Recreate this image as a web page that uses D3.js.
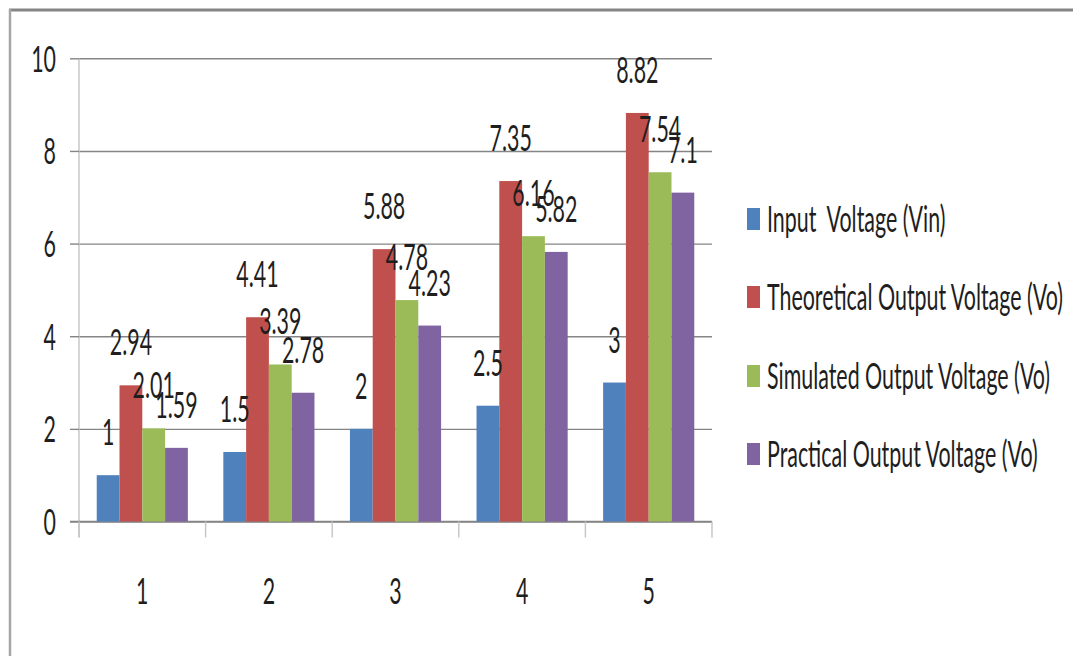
<!DOCTYPE html>
<html>
<head>
<meta charset="utf-8">
<script src="https://cdn.jsdelivr.net/npm/d3@7/dist/d3.min.js"></script>
<style>
  html, body { margin: 0; padding: 0; background: #fff; }
  svg text { font-family: Lato, "Open Sans", sans-serif; fill: #1e1e1e; }
</style>
</head>
<body>
<svg id="chart" width="1073" height="656"></svg>
<script>
// Output voltage measurements for five test points
const categories = ["1", "2", "3", "4", "5"];
const seriesNames = [
  "Input  Voltage (Vin)",
  "Theoretical Output Voltage (Vo)",
  "Simulated Output Voltage (Vo)",
  "Practical Output Voltage (Vo)"
];
const inputVoltage = [1, 1.5, 2, 2.5, 3];
const theoreticalVo = [2.94, 4.41, 5.88, 7.35, 8.82];
const simulatedVo = [2.01, 3.39, 4.78, 6.16, 7.54];
const practicalVo = [1.59, 2.78, 4.23, 5.82, 7.1];
const yTicks = [0, 2, 4, 6, 8, 10];
const colors = ["#4F81BD", "#C0504D", "#9BBB59", "#8064A2"];

const seriesValues = [inputVoltage, theoreticalVo, simulatedVo, practicalVo];

const svg = d3.select("#chart");
const FONT = 36;

// Narrow type: measure the longest legend entry and squeeze all text horizontally
const probe = svg.append("text").attr("font-size", FONT).style("white-space", "pre").text(seriesNames[1]);
const sx = 296 / probe.node().getComputedTextLength();
probe.remove();

// Outer frame
svg.append("line").attr("x1", 9).attr("x2", 1073).attr("y1", 10).attr("y2", 10)
  .attr("stroke", "#858585").attr("stroke-width", 3);
svg.append("line").attr("x1", 10).attr("x2", 10).attr("y1", 9).attr("y2", 656)
  .attr("stroke", "#a6a6a6").attr("stroke-width", 2.5);

const plotLeft = 79, plotRight = 712, plotTop = 58.3, plotBottom = 521.5;

const x = d3.scaleBand().domain(categories).range([plotLeft, plotRight])
  .paddingInner(0.28).paddingOuter(0.14);
const xs = d3.scaleBand().domain(d3.range(seriesNames.length)).range([0, x.bandwidth()]);
const y = d3.scaleLinear().domain([0, 10]).range([plotBottom, plotTop]);

// Horizontal gridlines
const grid = svg.append("g").attr("transform", `translate(${plotLeft},0)`)
  .call(d3.axisLeft(y).tickValues(yTicks).tickSize(-(plotRight - plotLeft)).tickFormat(""));
grid.select(".domain").remove();
grid.selectAll(".tick line").attr("stroke", "#858585").attr("stroke-width", 1.4);

// Vertical axis: outside ticks and labels
const yAxis = svg.append("g").attr("transform", `translate(${plotLeft},0)`)
  .call(d3.axisLeft(y).tickValues(yTicks).tickSize(9).tickPadding(14).tickFormat(d3.format("d")));
yAxis.select(".domain").attr("stroke", "#c4c4c4").attr("stroke-width", 1.4)
  .attr("d", `M0,${plotTop}V${plotBottom + 16}`);
yAxis.selectAll(".tick line").attr("stroke", "#858585").attr("stroke-width", 1.4);
yAxis.selectAll(".tick text")
  .attr("font-size", FONT).attr("font-family", null)
  .attr("fill", "#1e1e1e")
  .attr("dy", null).attr("y", 13)
  .attr("x", -23 / sx)
  .attr("transform", `scale(${sx},1)`);

// Horizontal axis with category boundary ticks
const xAxis = svg.append("g").attr("transform", `translate(0,${plotBottom})`);
xAxis.append("line").attr("x1", plotLeft - 9).attr("x2", plotRight).attr("y1", 0).attr("y2", 0)
  .attr("stroke", "#858585").attr("stroke-width", 1.4);
const bounds = categories.map(c => x(c) - x.step() * x.paddingOuter());
bounds.push(plotRight);
xAxis.selectAll("line.bt").data(bounds).join("line").attr("class", "bt")
  .attr("x1", d => d).attr("x2", d => d).attr("y1", 0).attr("y2", 16)
  .attr("stroke", "#c4c4c4").attr("stroke-width", 1.4);
xAxis.selectAll("g.cat").data(categories).join("g").attr("class", "cat")
  .attr("transform", d => `translate(${x(d) + x.bandwidth() / 2},82)`)
  .append("text").attr("font-size", FONT).attr("text-anchor", "middle")
  .attr("transform", `scale(${sx},1)`).text(d => d);

// Bars
const groups = svg.append("g").selectAll("g").data(categories).join("g")
  .attr("transform", d => `translate(${x(d)},0)`);
groups.selectAll("rect").data((c, i) => seriesValues.map((vals, s) => ({ s, v: vals[i] })))
  .join("rect")
  .attr("x", d => xs(d.s)).attr("width", xs.bandwidth())
  .attr("y", d => y(d.v)).attr("height", d => y(0) - y(d.v))
  .attr("fill", d => colors[d.s]);

// Value labels above each bar
const labelLayer = svg.append("g");
categories.forEach((c, i) => {
  seriesValues.forEach((vals, s) => {
    const v = vals[i];
    labelLayer.append("g")
      .attr("transform", `translate(${x(c) + xs(s) + xs.bandwidth() / 2},${y(v) - 30})`)
      .append("text").attr("font-size", FONT).attr("text-anchor", "middle")
      .attr("transform", `scale(${sx},1)`).text(String(v));
  });
});

// Legend
const legendY = [219, 297, 376, 454];
const legend = svg.append("g").selectAll("g").data(seriesNames).join("g")
  .attr("transform", (d, i) => `translate(747,${legendY[i]})`);
legend.append("rect").attr("x", 0).attr("y", -11).attr("width", 13).attr("height", 22)
  .attr("fill", (d, i) => colors[i]);
legend.append("g").attr("transform", "translate(20,13)")
  .append("text").attr("font-size", FONT).style("white-space", "pre")
  .attr("transform", `scale(${sx},1)`).text(d => d);
</script>
</body>
</html>
